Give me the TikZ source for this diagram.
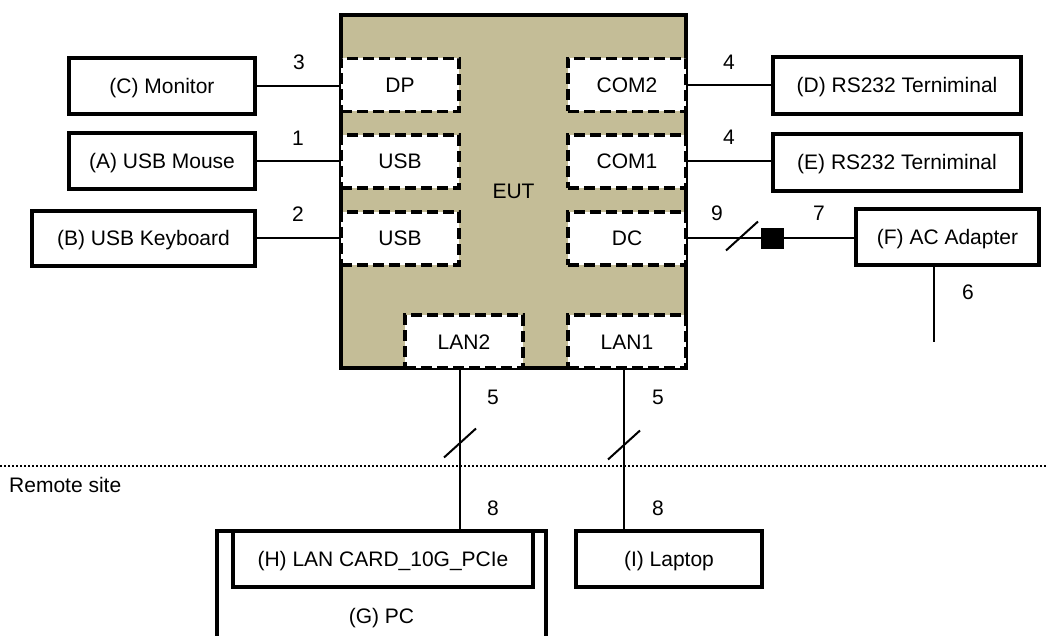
\documentclass[tikz,border=0pt]{standalone}
\usepackage{fontspec}
\setmainfont{Liberation Sans}
\usepackage{tikz}
\usetikzlibrary{arrows,arrows.meta,shapes,calc,positioning}
\definecolor{eutfill}{RGB}{196,189,151}

\begin{document}
\begin{tikzpicture}
    [   x = 1pt
    ,   y = -1pt
    ,   box/.style=
        {   draw
        ,   rectangle
        ,   line width = 3.5pt
        ,   fill = white
        ,   inner sep = 0pt
        ,   text height = 15pt
        ,   text depth = 0pt
        ,   minimum height = 56pt
        }
    ,   port/.style=
        {   box
        ,   dash pattern = on 11pt off 5pt
        ,   minimum width = 118pt
        ,   minimum height = 53pt
        }
    ,   ferrite/.style=
        {   draw
        ,   fill = black
        ,   inner sep = 0pt
        ,   minimum width = 22pt
        ,   minimum height = 20pt
        }
    ,   wire/.style = {line width = 2pt}
    ,   num/.style = {inner sep = 0pt, text height = 15pt, text depth = 0pt}
    ,   node font = \fontsize{21pt}{25pt}\selectfont
    ]
    \useasboundingbox (0,0) rectangle (1046,636);
    \clip (0,0) rectangle (1046,636);

    % equipment under test
    \node[box, fill=eutfill, minimum width=345pt, minimum height=353pt] (EUT) at (513.5,191.5) {EUT};
    \node[port] (DP)   at (400,85)    {DP};
    \node[port] (USBa) at (400,161.5) {USB};
    \node[port] (USBb) at (400,238.5) {USB};
    \node[port] (COM2) at (627,85)    {COM2};
    \node[port] (COM1) at (627,161.5) {COM1};
    \node[port] (DC)   at (627,238.5) {DC};
    \node[port] (LAN2) at (464,341.5) {LAN2};
    \node[port] (LAN1) at (627,341.5) {LAN1};

    % local peripherals
    \node[box, minimum width=186pt] (monitor)  at (162,86)      {(C) Monitor};
    \node[box, minimum width=186pt] (mouse)    at (162,161)     {(A) USB Mouse};
    \node[box, minimum width=223pt, minimum height=55pt] (keyboard) at (143.5,238.5) {(B) USB Keyboard};
    \node[box, minimum width=248pt, minimum height=57pt] (termD) at (897,85.5)  {(D) RS232 Terniminal};
    \node[box, minimum width=248pt, minimum height=57pt] (termE) at (897,162.5) {(E) RS232 Terniminal};
    \node[box, minimum width=183pt] (adapter)  at (947.5,237)   {(F) AC Adapter};
    \node[ferrite] (core) at (772,238.5) {};

    % remote site
    \node[box, minimum width=329pt, minimum height=170pt] (PC) at (381.5,616) {(G) PC};
    \node[box, minimum width=300pt] (card)   at (383,559) {(H) LAN CARD\_10G\_PCIe};
    \node[box, minimum width=186pt] (laptop) at (669,559) {(I) Laptop};
    \node[num, anchor=west] (remote) at (9,485) {Remote site};

    % cables
    \draw[wire] (monitor) -- (monitor -| DP.west);
    \draw[wire] (mouse) -- (mouse -| USBa.west);
    \draw[wire] (keyboard) -- (keyboard -| USBb.west);
    \draw[wire] (COM2) -- (COM2 -| termD.west);
    \draw[wire] (COM1) -- (COM1 -| termE.west);
    \draw[wire] (DC) -- (core);
    \draw[wire] (core) -- (core -| adapter.west);
    \coordinate (mains) at (934,342);
    \draw[wire] (adapter.south -| mains) -- (mains);
    \draw[wire] ([xshift=-4pt]LAN2.south) -- ([xshift=-4pt]LAN2.south |- card.north);
    \draw[wire] ([xshift=-3pt]LAN1.south) -- ([xshift=-3pt]LAN1.south |- laptop.north);

    % shield marks
    \coordinate (cut9) at (742,236);
    \coordinate (cutA) at (460,443);
    \coordinate (cutB) at (624,445);
    \foreach \c in {cut9,cutA,cutB}
        \draw[wire] (\c) +(-16,14.5) -- +(16,-14.5);

    % cable numbers
    \node[num] (n3)  at (299,62)  {3};
    \node[num] (n1)  at (298,138) {1};
    \node[num] (n2)  at (298,214) {2};
    \node[num] (n4a) at (729,62)  {4};
    \node[num] (n4b) at (729,137) {4};
    \node[num] (n9)  at (717,213) {9};
    \node[num] (n7)  at (819,213) {7};
    \node[num] (n6)  at (968,292) {6};
    \node[num] (n5a) at (493,397) {5};
    \node[num] (n5b) at (658,397) {5};
    \node[num] (n8a) at (493,508) {8};
    \node[num] (n8b) at (658,508) {8};

    \draw[line width=1.5pt, dash pattern=on 1.5pt off 2.5pt] (0,466) -- (1046,466);
\end{tikzpicture}
\end{document}
